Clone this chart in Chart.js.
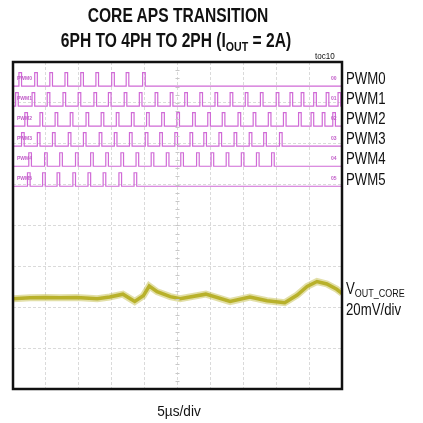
<!DOCTYPE html>
<html>
<head>
<meta charset="utf-8">
<script src="https://cdn.jsdelivr.net/npm/chart.js@4.4.1/dist/chart.umd.min.js"></script>
<style>
  body { margin: 0; background: #fff; }
  #wrap { position: relative; width: 423px; height: 423px; color: #111; }
  .t { position: absolute; line-height: 1; white-space: nowrap; font-family: "Liberation Sans", Arial, sans-serif; }
  .bold { font-weight: bold; }
  .lbl { font-size: 16.5px; left: 346px; transform: scaleX(0.8); transform-origin: left top; }
  .tiny { font-size: 5px; color: #c15cc8; font-weight: bold; }
  sub { font-size: 0.68em; vertical-align: -0.3em; line-height: 0; }
</style>
</head>
<body>
<div id="wrap">
  <canvas id="scope" width="423" height="423"></canvas>

  <div class="t bold" style="left:0;width:356px;text-align:center;top:5.5px;font-size:19.5px;transform:scaleX(0.8);transform-origin:178px 0">CORE APS TRANSITION</div>
  <div class="t bold" style="left:0;width:352px;text-align:center;top:30.5px;font-size:19.5px;transform:scaleX(0.8);transform-origin:176px 0">6PH TO 4PH TO 2PH (I<sub>OUT</sub> = 2A)</div>
  <div class="t" style="left:315px;top:52px;font-size:9px;transform:scaleX(0.9);transform-origin:left top">toc10</div>

  <div class="t lbl" style="top:69.5px">PWM0</div>
  <div class="t lbl" style="top:89.5px">PWM1</div>
  <div class="t lbl" style="top:109.5px">PWM2</div>
  <div class="t lbl" style="top:129.5px">PWM3</div>
  <div class="t lbl" style="top:149.5px">PWM4</div>
  <div class="t lbl" style="top:170.5px">PWM5</div>

  <div class="t tiny" style="left:17px;top:76px">PWM0</div>
  <div class="t tiny" style="left:17px;top:96px">PWM1</div>
  <div class="t tiny" style="left:17px;top:116px">PWM2</div>
  <div class="t tiny" style="left:17px;top:136px">PWM3</div>
  <div class="t tiny" style="left:17px;top:156px">PWM4</div>
  <div class="t tiny" style="left:17px;top:176px">PWM5</div>
  <div class="t tiny" style="left:331px;top:76px">00</div>
  <div class="t tiny" style="left:331px;top:96px">01</div>
  <div class="t tiny" style="left:331px;top:116px">02</div>
  <div class="t tiny" style="left:331px;top:136px">03</div>
  <div class="t tiny" style="left:331px;top:156px">04</div>
  <div class="t tiny" style="left:331px;top:176px">05</div>

  <div class="t lbl" style="top:280px">V<sub>OUT_CORE</sub></div>
  <div class="t lbl" style="top:301px">20mV/div</div>
  <div class="t" style="left:0;width:358px;text-align:center;top:403px;font-size:15.5px;transform:scaleX(0.88);transform-origin:179px 0">5µs/div</div>
</div>

<script>
// time axis in µs (10 div x 5µs), vertical axis in scope divisions (8 div)
const pwmNames = ['PWM0', 'PWM1', 'PWM2', 'PWM3', 'PWM4', 'PWM5'];
const channelOffsets = [7.41, 6.92, 6.43, 5.94, 5.45, 4.96];
const pulseHigh = 0.33;
const pulseWidth = 0.4;

// rising edges (µs)
const pwm0Rise = [0.9, 3.3, 5.6, 7.9, 10.3, 12.6, 15.0, 17.2, 19.7];
const pwm1Rise = [0.4, 2.9, 5.2, 7.6, 9.9, 12.3, 14.5, 16.9, 19.2, 21.6, 23.9, 26.1, 28.4, 30.7, 33.0, 35.3, 37.6, 40.0, 42.1, 43.8, 45.7, 47.6, 49.4];
const pwm2Rise = [1.8, 4.1, 6.4, 8.7, 11.1, 13.4, 15.7, 18.0, 20.3, 22.6, 24.9, 27.3, 29.6, 31.8, 34.2, 36.5, 38.8, 41.1, 43.4, 45.3, 47.0, 48.6];
const pwm3Rise = [1.3, 3.7, 6.0, 8.4, 10.7, 13.1, 15.4, 17.7, 20.1, 22.3, 24.6, 26.9, 29.0, 31.3, 33.6, 35.9, 38.1, 40.5];
const pwm4Rise = [2.4, 4.8, 7.1, 9.5, 11.8, 14.1, 16.4, 18.7, 21.0, 23.3, 25.5, 27.9, 30.1, 32.4, 34.7, 37.0, 39.3];
const pwm5Rise = [2.2, 4.5, 6.7, 9.1, 11.4, 13.7, 16.1, 18.4];

// VOUT_CORE trace
const voutTime  = [0, 2.6, 4.9, 7.1, 9.7, 12.8, 14.7, 16.7, 18.5, 19.8, 20.7, 21.9, 23.9, 25.4, 29.3, 33.0, 36.0, 38.6, 41.3, 43.2, 44.7, 46.2, 47.7, 49.2, 50];
const voutLevel = [2.21, 2.23, 2.24, 2.23, 2.24, 2.21, 2.25, 2.32, 2.14, 2.28, 2.52, 2.38, 2.26, 2.21, 2.32, 2.14, 2.25, 2.16, 2.11, 2.30, 2.51, 2.63, 2.57, 2.44, 2.34];

const allRises = [pwm0Rise, pwm1Rise, pwm2Rise, pwm3Rise, pwm4Rise, pwm5Rise];

function pulseTrain(rises, base) {
  const pts = [{x: 0.1, y: base}];
  rises.forEach(function (r) {
    pts.push({x: r, y: base}, {x: r, y: base + pulseHigh}, {x: r + pulseWidth, y: base + pulseHigh}, {x: r + pulseWidth, y: base});
  });
  pts.push({x: 49.9, y: base});
  return pts;
}

var datasets = allRises.map(function (rises, i) {
  return {
    label: pwmNames[i],
    data: pulseTrain(rises, channelOffsets[i]),
    borderColor: '#d06ad6',
    borderWidth: 1.2,
    fill: false
  };
});
var voutPts = voutTime.map(function (t, i) { return {x: t, y: voutLevel[i]}; });
// soft outer band for the noise, then the core of the trace
datasets.push({
  label: 'VOUT_CORE band',
  data: voutPts,
  borderColor: 'rgba(190, 184, 60, 0.45)',
  borderWidth: 7,
  fill: false
});
datasets.push({
  label: 'VOUT_CORE',
  data: voutPts,
  borderColor: '#b3ab1e',
  borderWidth: 3.5,
  fill: false
});

// black frame + small ticks on the centre graticule lines
var scopeFrame = {
  id: 'scopeFrame',
  afterDraw: function (chart) {
    var ctx = chart.ctx, a = chart.chartArea;
    var xs = chart.scales.x, ys = chart.scales.y;
    ctx.save();
    ctx.strokeStyle = '#c8c8c8';
    ctx.lineWidth = 1;
    var cx = xs.getPixelForValue(25);
    for (var v = 0.2; v < 8; v += 0.2) {
      var py = Math.round(ys.getPixelForValue(v)) + 0.5;
      ctx.beginPath(); ctx.moveTo(cx - 2, py); ctx.lineTo(cx + 2, py); ctx.stroke();
    }
    ctx.strokeStyle = '#111';
    ctx.lineWidth = 2.5;
    ctx.strokeRect(a.left, a.top, a.right - a.left, a.bottom - a.top);
    ctx.restore();
  }
};

var ctx = document.getElementById('scope').getContext('2d');
var scope = new Chart(ctx, {
  type: 'line',
  data: { datasets: datasets },
  options: {
    responsive: false,
    animation: false,
    layout: { padding: { left: 13, top: 62, right: 81, bottom: 34 } },
    elements: { point: { radius: 0 }, line: { tension: 0 } },
    plugins: { legend: { display: false }, tooltip: { enabled: false } },
    scales: {
      x: {
        type: 'linear', min: 0, max: 50,
        ticks: { display: false, stepSize: 5 },
        grid: { color: '#dadada', drawTicks: false },
        border: { display: false, dash: [3, 2] }
      },
      y: {
        type: 'linear', min: 0, max: 8,
        ticks: { display: false, stepSize: 1 },
        grid: { color: '#dadada', drawTicks: false },
        border: { display: false, dash: [3, 2] }
      }
    }
  },
  plugins: [scopeFrame]
});
</script>
</body>
</html>
